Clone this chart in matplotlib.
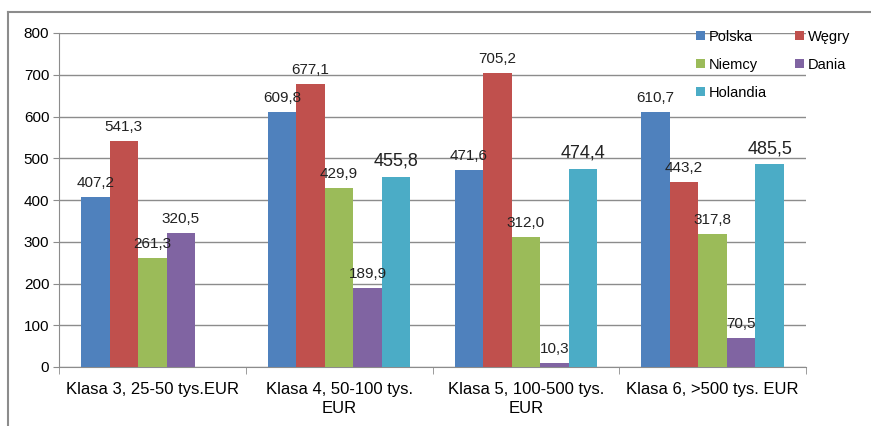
import numpy as np
import matplotlib
matplotlib.use('Agg')
from matplotlib import pyplot as plt
from matplotlib.lines import Line2D

plt.rcParams['font.family'] = ['Liberation Sans', 'DejaVu Sans']

kategorie = ['Klasa 3, 25-50 tys.EUR', 'Klasa 4, 50-100 tys.\nEUR',
             'Klasa 5, 100-500 tys.\nEUR', 'Klasa 6, >500 tys. EUR']
polska = [407.2, 609.8, 471.6, 610.7]
wegry = [541.3, 677.1, 705.2, 443.2]
niemcy = [261.3, 429.9, 312.0, 317.8]
dania = [320.5, 189.9, 10.3, 70.5]
holandia = [np.nan, 455.8, 474.4, 485.5]

serie = [('Polska', polska, '#4F81BD'),
         ('Węgry', wegry, '#C0504D'),
         ('Niemcy', niemcy, '#9BBB59'),
         ('Dania', dania, '#8064A2'),
         ('Holandia', holandia, '#4BACC6')]

fig = plt.figure(figsize=(8.71, 4.26), dpi=100)
ax = fig.add_axes([59 / 871, 1 - 367 / 426, (806 - 59) / 871, (367 - 33) / 426])

x = np.arange(len(kategorie))
szer = 0.1527
uchwyty = {}
for i, (nazwa, wart, kolor) in enumerate(serie):
    pos = x + (i - 2) * szer
    b = ax.bar(pos, wart, width=szer, color=kolor, zorder=3)
    uchwyty[nazwa] = b
    fs = 13 if nazwa == 'Holandia' else 11
    for p, v in zip(pos, wart):
        if np.isnan(v):
            continue
        ax.annotate(f'{v:.1f}'.replace('.', ','), (p, v), xytext=(0, 5),
                    textcoords='offset points', ha='center', va='bottom',
                    fontsize=fs, color='#222222', zorder=4)

ax.set_xlim(-0.5, 3.5)
ax.set_ylim(0, 800)
ax.set_yticks(range(0, 801, 100))
ax.yaxis.grid(True, color='#8c8c8c', linewidth=1, zorder=0)
ax.set_xticks(x)
ax.set_xticklabels(kategorie, fontsize=12, linespacing=1.35)
ax.set_xticks(np.arange(-0.5, 4, 1), minor=True)
ax.tick_params(axis='x', which='major', length=0, pad=11)
ax.tick_params(axis='x', which='minor', length=5, color='#8c8c8c')
ax.tick_params(axis='y', length=4, color='#8c8c8c', labelsize=11, pad=3)
for s in ['top', 'right']:
    ax.spines[s].set_visible(False)
for s in ['left', 'bottom']:
    ax.spines[s].set_color('#8c8c8c')

kolejnosc = ['Polska', 'Niemcy', 'Holandia', 'Węgry', 'Dania']
ax.legend([uchwyty[n] for n in kolejnosc], kolejnosc, ncol=2, frameon=False,
          loc='upper left', bbox_to_anchor=(690 / 871, 1 - 24 / 426),
          bbox_transform=fig.transFigure, fontsize=10.5, handlelength=0.6,
          handleheight=0.6, handletextpad=0.3, columnspacing=1.9,
          labelspacing=0.95, borderaxespad=0)

# ramka wykresu
fig.add_artist(Line2D([7.5 / 871, 1], [1 - 12 / 426, 1 - 12 / 426],
                      transform=fig.transFigure, color='#8c8c8c', linewidth=1.5))
fig.add_artist(Line2D([7.5 / 871, 7.5 / 871], [0, 1 - 12 / 426],
                      transform=fig.transFigure, color='#8c8c8c', linewidth=1.5))

fig.savefig('out.png', dpi=100)
